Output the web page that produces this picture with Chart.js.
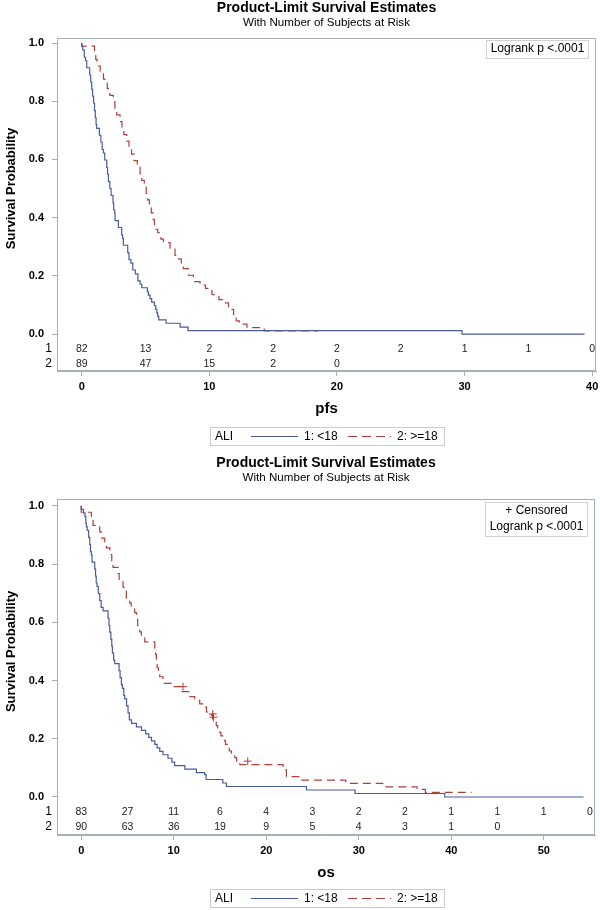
<!DOCTYPE html>
<html>
<head>
<meta charset="utf-8">
<script src="https://cdn.jsdelivr.net/npm/chart.js@4/dist/chart.umd.min.js"></script>
<style>
html,body{margin:0;padding:0;background:#fff;}
canvas{display:block;}
</style>
</head>
<body>
<canvas id="c1" width="600" height="455"></canvas>
<canvas id="c2" width="600" height="455"></canvas>
<script>
// ---------------- data ----------------
const chartTitle = 'Product-Limit Survival Estimates';
const chartSubtitle = 'With Number of Subjects at Risk';
const yAxisTitle = 'Survival Probability';
const legendTitle = 'ALI';
const groupLabels = ['1: <18', '2: >=18'];
const groupIds = ['1', '2'];
const probTicks = [0, 0.2, 0.4, 0.6, 0.8, 1.0];
const logrankText = 'Logrank p <.0001';
const censoredText = '+ Censored';

const pfsAxisTicks = [0, 10, 20, 30, 40];
const osAxisTicks = [0, 10, 20, 30, 40, 50];

const pfsRiskTimes = [0, 5, 10, 15, 20, 25, 30, 35, 40];
const pfsRisk1 = [82, 13, 2, 2, 2, 2, 1, 1, 0];
const pfsRisk2 = [89, 47, 15, 2, 0];
const osRiskTimes = [0, 5, 10, 15, 20, 25, 30, 35, 40, 45, 50, 55];
const osRisk1 = [83, 27, 11, 6, 4, 3, 2, 2, 1, 1, 1, 0];
const osRisk2 = [90, 63, 36, 19, 9, 5, 4, 3, 1, 0];

// PFS, group 1 (<18)
const pfsTime1 = [0, 0.08, 0.2, 0.3, 0.39, 0.62, 0.7, 0.78, 0.85, 0.93, 1.0, 1.06, 1.12, 1.17, 1.38, 1.5, 1.6, 1.7, 1.8, 1.96, 2.02, 2.09, 2.2, 2.3, 2.45, 2.5, 2.58, 2.61, 2.87, 3.13, 3.2, 3.26, 3.6, 3.7, 3.85, 4.0, 4.2, 4.4, 4.57, 4.7, 5.14, 5.22, 5.35, 5.48, 5.69, 5.8, 5.88, 5.95, 6.04, 6.61, 7.71, 8.33, 29.8, 39.4];
const pfsSurv1 = [1.0, 0.988, 0.976, 0.951, 0.939, 0.915, 0.890, 0.866, 0.841, 0.817, 0.793, 0.768, 0.744, 0.720, 0.707, 0.683, 0.659, 0.634, 0.622, 0.598, 0.573, 0.549, 0.524, 0.500, 0.476, 0.451, 0.427, 0.415, 0.390, 0.366, 0.341, 0.329, 0.305, 0.280, 0.256, 0.244, 0.220, 0.207, 0.183, 0.171, 0.159, 0.146, 0.134, 0.122, 0.110, 0.098, 0.085, 0.073, 0.061, 0.049, 0.037, 0.024, 0.012, 0.0];
// PFS, group 2 (>=18)
const pfsTime2 = [0, 1.0, 1.1, 1.2, 1.45, 1.7, 1.8, 2.0, 2.2, 2.48, 2.6, 2.74, 3.0, 3.15, 3.3, 3.53, 3.7, 3.9, 4.1, 4.35, 4.57, 4.7, 4.9, 5.05, 5.15, 5.3, 5.45, 5.6, 5.7, 5.8, 5.95, 6.2, 6.4, 6.92, 7.31, 7.5, 7.8, 7.96, 8.36, 8.75, 9.27, 9.7, 10.2, 10.75, 11.1, 11.5, 11.9, 12.1, 12.35, 12.95, 14.3, 16.55, 18.5];
const pfsSurv2 = [1.0, 0.989, 0.966, 0.944, 0.921, 0.899, 0.876, 0.865, 0.843, 0.820, 0.798, 0.775, 0.753, 0.730, 0.708, 0.685, 0.663, 0.640, 0.618, 0.596, 0.573, 0.551, 0.528, 0.506, 0.483, 0.461, 0.438, 0.416, 0.393, 0.371, 0.360, 0.348, 0.326, 0.314, 0.292, 0.270, 0.258, 0.236, 0.225, 0.202, 0.180, 0.168, 0.157, 0.135, 0.118, 0.107, 0.085, 0.067, 0.045, 0.034, 0.022, 0.011, 0.011];

// OS, group 1 (<18)
const osTime1 = [0, 0.25, 0.4, 0.5, 0.56, 0.65, 0.8, 0.92, 1.0, 1.1, 1.17, 1.46, 1.55, 1.62, 1.71, 1.85, 2.0, 2.15, 2.36, 2.9, 3.0, 3.08, 3.2, 3.3, 3.37, 3.5, 3.62, 4.09, 4.2, 4.34, 4.45, 4.6, 4.7, 4.9, 5.06, 5.2, 5.43, 5.97, 6.51, 6.97, 7.3, 7.59, 7.95, 8.2, 8.49, 8.84, 9.38, 9.8, 10.1, 11.2, 12.45, 13.35, 13.5, 15.3, 15.7, 24.35, 29.6, 39.3, 54.3];
const osSurv1 = [1.0, 0.988, 0.976, 0.964, 0.940, 0.928, 0.916, 0.892, 0.867, 0.843, 0.831, 0.807, 0.783, 0.759, 0.735, 0.723, 0.699, 0.675, 0.651, 0.639, 0.614, 0.590, 0.566, 0.542, 0.518, 0.494, 0.470, 0.458, 0.434, 0.410, 0.386, 0.373, 0.349, 0.337, 0.313, 0.289, 0.265, 0.253, 0.241, 0.229, 0.217, 0.205, 0.193, 0.181, 0.169, 0.157, 0.145, 0.133, 0.120, 0.108, 0.096, 0.084, 0.077, 0.060, 0.048, 0.036, 0.024, 0.012, 0.0];
// OS, group 2 (>=18)
const osTime2 = [0, 1.1, 1.28, 2.0, 2.18, 2.54, 2.72, 3.1, 3.3, 3.44, 3.98, 4.1, 4.52, 4.6, 4.88, 5.24, 5.4, 5.78, 5.97, 6.1, 6.32, 6.5, 6.86, 7.95, 8.05, 8.13, 8.2, 8.35, 8.49, 8.84, 9.9, 10.83, 11.73, 12.27, 12.81, 13.2, 13.54, 14.08, 14.2, 14.43, 14.6, 14.75, 14.97, 15.1, 15.51, 15.6, 15.87, 16.0, 16.24, 16.6, 16.8, 17.14, 21.82, 22.18, 23.62, 28.6, 32.6, 36.3, 37.2, 39.3, 42.2];
const osSurv2 = [1.0, 0.978, 0.956, 0.933, 0.911, 0.889, 0.867, 0.856, 0.833, 0.811, 0.789, 0.767, 0.744, 0.722, 0.706, 0.683, 0.667, 0.656, 0.633, 0.611, 0.589, 0.567, 0.553, 0.533, 0.511, 0.489, 0.467, 0.444, 0.424, 0.413, 0.390, 0.379, 0.362, 0.345, 0.332, 0.320, 0.309, 0.292, 0.280, 0.268, 0.256, 0.245, 0.233, 0.222, 0.210, 0.193, 0.181, 0.170, 0.158, 0.146, 0.135, 0.123, 0.111, 0.094, 0.070, 0.058, 0.047, 0.035, 0.026, 0.016, 0.016];
// OS, group 2 censored observations
const osCensTime2 = [11.0, 14.22, 14.3, 18.0];
const osCensSurv2 = [0.379, 0.285, 0.274, 0.123];

// ---------------- styling / drawing ----------------
const FONT = "'Liberation Sans', Arial, sans-serif";
const BLUE = '#4a5b9e';
const RED = '#b0403a';
const FRAME = '#a9afb6';

function pts(t, s) { return t.map((x, i) => ({ x: x, y: s[i] })); }

function decor(o) {
  return {
    id: 'decor_' + o.key,
    beforeDraw(chart) {
      const ctx = chart.ctx;
      ctx.save();
      ctx.fillStyle = '#fff';
      ctx.fillRect(0, 0, chart.width, chart.height);
      ctx.restore();
    },
    afterDraw(chart) {
      const ctx = chart.ctx;
      const a = chart.chartArea;
      const xs = chart.scales.x, ys = chart.scales.y;
      ctx.save();
      // frame
      ctx.strokeStyle = FRAME;
      ctx.lineWidth = 1;
      ctx.strokeRect(Math.round(a.left) + 0.5, Math.round(a.top) + 0.5,
        Math.round(a.right - a.left) - 1, Math.round(a.bottom - a.top) - 1);
      // titles
      const cx = (a.left + a.right) / 2;
      ctx.fillStyle = '#000';
      ctx.textAlign = 'center';
      ctx.textBaseline = 'middle';
      ctx.font = 'bold 14px ' + FONT;
      ctx.fillText(chartTitle, cx, o.titleY);
      ctx.font = '11.6px ' + FONT;
      ctx.fillText(chartSubtitle, cx, o.titleY + 15);
      // y axis title
      ctx.save();
      ctx.translate(11, ys.getPixelForValue(0.5));
      ctx.rotate(-Math.PI / 2);
      ctx.font = 'bold 13px ' + FONT;
      ctx.fillText(yAxisTitle, 0, 0);
      ctx.restore();
      // at-risk table
      const y0 = ys.getPixelForValue(0);
      const rowDy = [15, 30];
      o.risk.forEach((row, ri) => {
        const py = y0 + rowDy[ri];
        ctx.fillStyle = '#000';
        ctx.font = '12px ' + FONT;
        ctx.textAlign = 'right';
        ctx.fillText(groupIds[ri], a.left - 5, py);
        ctx.fillStyle = '#222';
        ctx.font = '10.5px ' + FONT;
        ctx.textAlign = 'center';
        row.forEach((n, i) => ctx.fillText(String(n), xs.getPixelForValue(o.riskTimes[i]), py));
      });
      // inset box
      ctx.font = '12px ' + FONT;
      const lines = o.inset;
      let w = 0;
      lines.forEach(t => { w = Math.max(w, ctx.measureText(t).width); });
      const bw = Math.round(w + 8), bh = lines.length * 16 + 2;
      const bx = Math.round(a.right) - 8 - bw, by = Math.round(a.top) + o.insetTop;
      ctx.fillStyle = '#fff';
      ctx.fillRect(bx, by, bw, bh);
      ctx.strokeStyle = '#d0d3d6';
      ctx.strokeRect(bx + 0.5, by + 0.5, bw, bh);
      ctx.fillStyle = '#000';
      ctx.textAlign = 'center';
      lines.forEach((t, i) => ctx.fillText(t, bx + bw / 2 + 0.5, by + 9 + i * 16));
      // legend
      const L = { x: 210, y: o.legendY, w: 234, h: 18 };
      const ly = L.y + L.h / 2 + 0.5;
      ctx.fillStyle = '#fff';
      ctx.fillRect(L.x, L.y, L.w, L.h);
      ctx.strokeStyle = '#c8ccd0';
      ctx.strokeRect(L.x + 0.5, L.y + 0.5, L.w, L.h);
      ctx.fillStyle = '#000';
      ctx.font = '12px ' + FONT;
      ctx.textAlign = 'left';
      ctx.fillText(legendTitle, 215, ly);
      ctx.lineWidth = 1.2;
      ctx.strokeStyle = BLUE;
      ctx.beginPath(); ctx.moveTo(251, ly); ctx.lineTo(298, ly); ctx.stroke();
      ctx.fillText(groupLabels[0], 304, ly);
      ctx.strokeStyle = RED;
      ctx.setLineDash([9, 5]);
      ctx.beginPath(); ctx.moveTo(348, ly); ctx.lineTo(391, ly); ctx.stroke();
      ctx.setLineDash([]);
      ctx.fillText(groupLabels[1], 397, ly);
      ctx.restore();
    }
  };
}

function makeChart(id, o) {
  return new Chart(document.getElementById(id), {
    type: 'line',
    data: { datasets: o.datasets },
    options: {
      responsive: false,
      animation: false,
      devicePixelRatio: 1,
      layout: { padding: { left: 0, right: 4, top: o.padTop, bottom: o.padBottom } },
      plugins: { legend: { display: false }, tooltip: { enabled: false }, title: { display: false } },
      elements: { point: { radius: 0 }, line: { tension: 0 } },
      scales: {
        x: {
          type: 'linear', min: o.xMin, max: o.xMax,
          afterBuildTicks: s => { s.ticks = o.xTicks.map(v => ({ value: v })); },
          afterFit: s => { s.height = 48; s.paddingLeft = 0; s.paddingRight = 0; },
          ticks: { font: { family: FONT, size: 11, weight: 'bold' }, color: '#000', padding: 4, maxRotation: 0, autoSkip: false, callback: v => String(v) },
          grid: { drawOnChartArea: false, drawTicks: true, tickLength: 5, color: FRAME },
          border: { display: true, color: FRAME },
          title: { display: true, text: o.xTitle, font: { family: FONT, size: 15, weight: 'bold' }, color: '#000', padding: { top: 0, bottom: 1 } }
        },
        y: {
          type: 'linear', min: o.yMin, max: o.yMax,
          afterBuildTicks: s => { s.ticks = probTicks.map(v => ({ value: v })); },
          afterFit: s => { s.width = 57; s.paddingTop = 0; s.paddingBottom = 0; },
          ticks: { font: { family: FONT, size: 11, weight: 'bold' }, color: '#000', padding: 8, autoSkip: false, callback: v => Number(v).toFixed(1) },
          grid: { drawOnChartArea: false, drawTicks: true, tickLength: 5, color: FRAME },
          border: { display: true, color: FRAME }
        }
      }
    },
    plugins: [decor(o)]
  });
}

function survDatasets(t1, s1, t2, s2) {
  return [
    { data: pts(t1, s1), borderColor: BLUE, borderWidth: 1.2, stepped: 'after', pointRadius: 0, fill: false },
    { data: pts(t2, s2), borderColor: RED, borderWidth: 1.2, borderDash: [8, 5], stepped: 'after', pointRadius: 0, fill: false }
  ];
}

// top chart: frame 38..371, legend 427
makeChart('c1', {
  key: 'pfs',
  datasets: survDatasets(pfsTime1, pfsSurv1, pfsTime2, pfsSurv2),
  xMin: -1.94, xMax: 40.3, xTicks: pfsAxisTicks, xTitle: 'pfs',
  yMin: -0.127, yMax: 1.0172,
  riskTimes: pfsRiskTimes, risk: [pfsRisk1, pfsRisk2],
  inset: [logrankText], insetTop: 2,
  titleY: 8, legendY: 427,
  padTop: 38, padBottom: 455 - 419
});

// bottom chart (canvas starts at 455): frame 499..835 absolute
const osSets = survDatasets(osTime1, osSurv1, osTime2, osSurv2);
osSets.push({ type: 'scatter', data: pts(osCensTime2, osCensSurv2), pointStyle: 'cross', pointRadius: 4, borderColor: RED, borderWidth: 1, showLine: false });
makeChart('c2', {
  key: 'os',
  datasets: osSets,
  xMin: -2.62, xMax: 55.54, xTicks: osAxisTicks, xTitle: 'os',
  yMin: -0.1306, yMax: 1.0236,
  riskTimes: osRiskTimes, risk: [osRisk1, osRisk2],
  inset: [censoredText, logrankText], insetTop: 3,
  titleY: 8, legendY: 434,
  padTop: 44, padBottom: 455 - 380 - 48
});
</script>
</body>
</html>
